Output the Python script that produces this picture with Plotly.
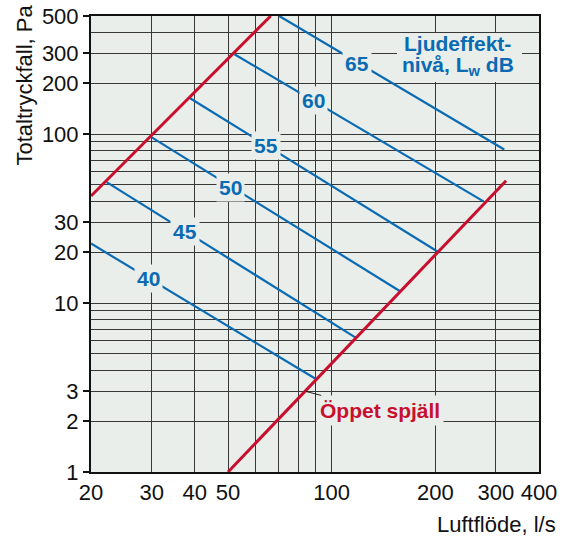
import math
import plotly.graph_objects as go

# ---------------- data ----------------
levels = [40, 45, 50, 55, 60, 65]
line_start_x = [20, 22.2, 29.7, 38.8, 52.2, 70.4]
line_start_y = [22.5, 52, 97, 163, 297, 500]
line_end_x = [90, 118, 158, 204.5, 276, 317]
line_end_y = [3.55, 6.2, 11.75, 20, 40, 81]
label_x = [29.4, 37.5, 50.7, 64.5, 88.6, 118.4]
label_y = [14.0, 26.4, 48.5, 86, 158, 262]

valve_upper_x = [20, 66.5]
valve_upper_y = [43, 500]
valve_lower_x = [50, 321]
valve_lower_y = [1, 53]
valve_label_point = (84, 3.0)

x_ticks = [20, 30, 40, 50, 100, 200, 300, 400]
x_minor = [60, 70, 80, 90]
y_ticks = [1, 2, 3, 10, 20, 30, 100, 200, 300, 500]
y_minor = [4, 5, 6, 7, 8, 9, 40, 50, 60, 70, 80, 90, 400]

legend_lines = ["<b>Ljudeffekt-</b>", "<b>nivå, L<sub>w</sub> dB</b>"]

# ---------------- style ----------------
BLUE = "#0A6BB3"
RED = "#C8102E"
BG = "#E9EEEB"
GRID = "#383838"
FONT = "Liberation Sans, Arial, sans-serif"

# plot-area pixel frame (for paper coordinates of decorations)
L, R, T, B = 91, 539, 16, 472
def px(xp):
    return (xp - L) / (R - L)
def py(yp):
    return (B - yp) / (B - T)

fig = go.Figure()

for i, lv in enumerate(levels):
    fig.add_trace(go.Scatter(
        x=[line_start_x[i], line_end_x[i]], y=[line_start_y[i], line_end_y[i]],
        mode="lines", line=dict(color=BLUE, width=2.2), showlegend=False,
        hoverinfo="skip"))

fig.add_trace(go.Scatter(x=valve_upper_x, y=valve_upper_y, mode="lines",
                         line=dict(color=RED, width=3), showlegend=False))
fig.add_trace(go.Scatter(x=valve_lower_x, y=valve_lower_y, mode="lines",
                         line=dict(color=RED, width=3), showlegend=False))

annotations = []
for i, lv in enumerate(levels):
    annotations.append(dict(
        x=math.log10(label_x[i]), y=math.log10(label_y[i]), xref="x", yref="y",
        text=f"<b>{lv}</b>", showarrow=False, bgcolor=BG, borderpad=2,
        xanchor="center", yanchor="middle",
        font=dict(family=FONT, size=21, color=BLUE)))

annotations.append(dict(
    x=math.log10(valve_label_point[0]), y=math.log10(valve_label_point[1]),
    xref="x", yref="y", text="<b>Öppet spjäll</b>", showarrow=True,
    arrowhead=0, arrowwidth=0.9, arrowcolor="#111", ax=74, ay=19,
    bgcolor=BG, borderpad=3, font=dict(family=FONT, size=21, color=RED)))

# Legend-like title (background box drawn as a shape, text on top)
for txt, yp in zip(legend_lines, [44, 66]):
    annotations.append(dict(
        x=px(457.5), y=py(yp), xref="paper", yref="paper",
        text=txt, showarrow=False, xanchor="center", yanchor="middle",
        font=dict(family=FONT, size=21, color=BLUE)))

# axis titles
annotations.append(dict(
    x=px(24), y=py(3), xref="paper", yref="paper",
    text="Totaltryckfall, Pa", textangle=-90, showarrow=False,
    xanchor="center", yanchor="top",
    font=dict(family=FONT, size=22, color="#111")))
annotations.append(dict(
    x=px(558), y=py(524), xref="paper", yref="paper",
    text="Luftflöde, l/s", showarrow=False, xanchor="right", yanchor="middle",
    font=dict(family=FONT, size=22, color="#111")))

shapes = [dict(type="rect", xref="paper", yref="paper",
               x0=px(397), x1=px(522), y0=py(82), y1=py(33),
               fillcolor=BG, line=dict(width=0), layer="above")]

fig.update_layout(
    width=566, height=541, autosize=False,
    margin=dict(l=91, r=27, t=16, b=69, autoexpand=False),
    paper_bgcolor="white", plot_bgcolor=BG,
    font=dict(family=FONT, size=22, color="#111"),
    annotations=annotations, shapes=shapes,
    showlegend=False,
)

fig.update_xaxes(
    type="log", range=[math.log10(20), math.log10(400)],
    tickvals=x_ticks, ticktext=[str(v) for v in x_ticks],
    ticks="", showgrid=True, gridcolor=GRID, gridwidth=1.3,
    minor=dict(tickvals=x_minor, showgrid=True, gridcolor=GRID, gridwidth=1.3, ticks=""),
    showline=True, linecolor="#111", linewidth=2, mirror=True,
    tickfont=dict(family=FONT, size=22, color="#111"), zeroline=False,
)
fig.update_yaxes(
    type="log", range=[0, math.log10(500)],
    tickvals=y_ticks, ticktext=[str(v) for v in y_ticks],
    ticks="outside", ticklen=6, tickwidth=1.5, tickcolor="#111",
    showgrid=True, gridcolor=GRID, gridwidth=1.3,
    minor=dict(tickvals=y_minor, showgrid=True, gridcolor=GRID, gridwidth=1.3, ticks=""),
    showline=True, linecolor="#111", linewidth=2, mirror=True,
    tickfont=dict(family=FONT, size=22, color="#111"), zeroline=False,
)

fig.write_html("out.html", config={"displayModeBar": False},
               post_script="document.body.style.margin='0';document.body.style.padding='0';")
